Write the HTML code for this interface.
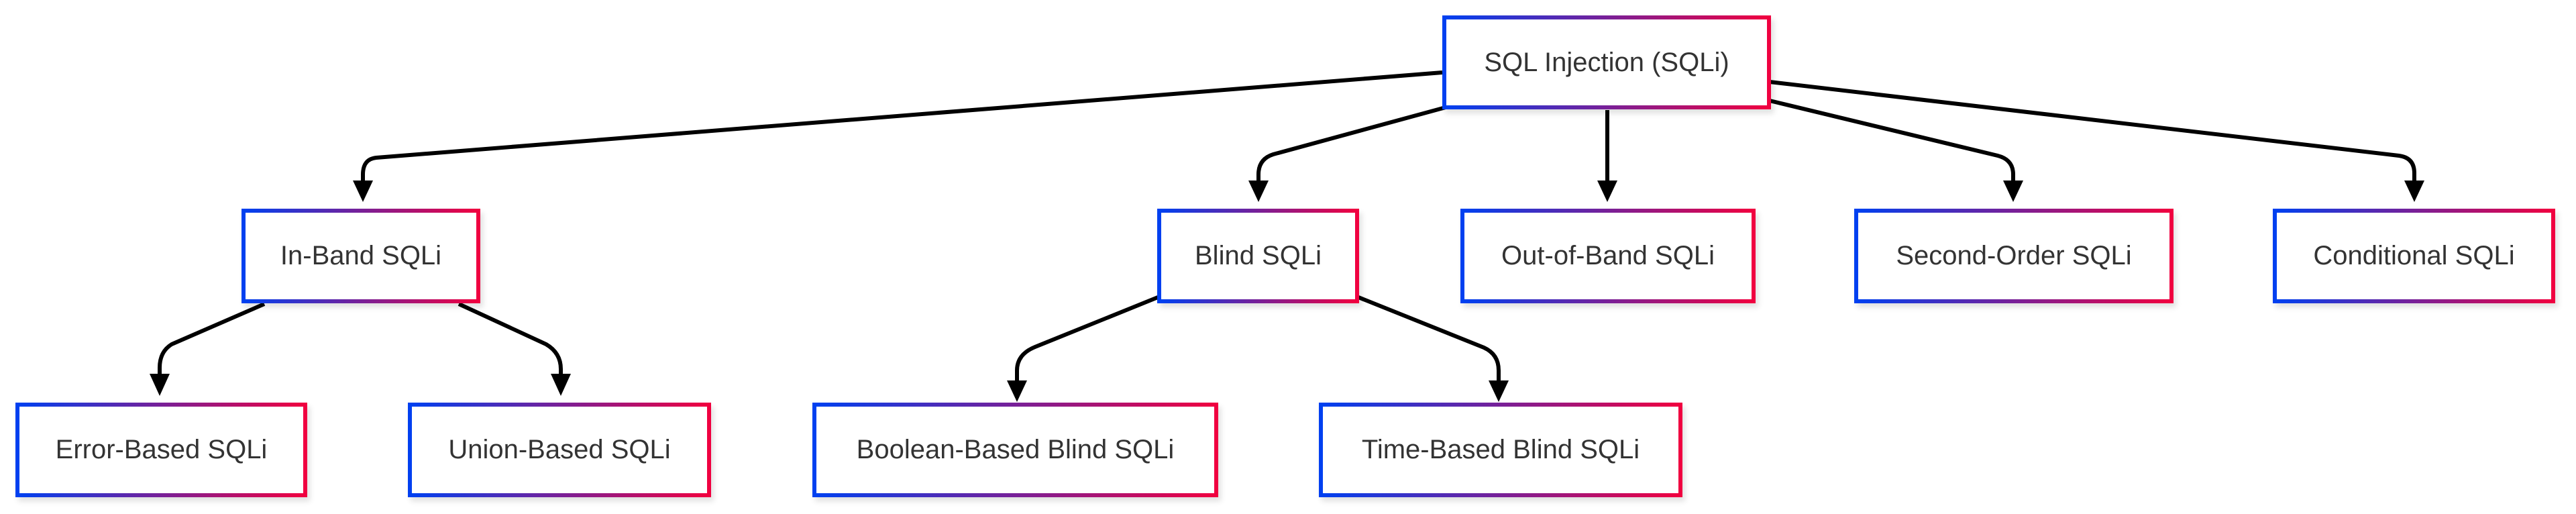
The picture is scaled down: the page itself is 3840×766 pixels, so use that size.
<!DOCTYPE html>
<html><head><meta charset="utf-8"><style>
html,body{margin:0;padding:0;background:#fff;}
body{width:3840px;height:766px;position:relative;overflow:hidden;font-family:"Liberation Sans",Arial,sans-serif;}
.n{position:absolute;box-sizing:border-box;border:6px solid;border-image:linear-gradient(90deg,#0040f0,#f00040) 1;background:#fff;display:flex;align-items:center;justify-content:center;font-size:40px;color:#333;box-shadow:4px 6px 8px rgba(0,0,0,0.12);}
svg{position:absolute;left:0;top:0;}
</style></head><body>
<svg width="3840" height="766" viewBox="0 0 3840 766">
<g fill="none" stroke="#000" stroke-width="6">
<path d="M2150,108 L561,235 Q541,237 541,260 L541,272"/>
<path d="M2155,160 L1898,230 Q1876,237 1876,260 L1876,272"/>
<path d="M2396,164 L2396,272"/>
<path d="M2638,150 L2978,232 Q3001,238 3001,260 L3001,272"/>
<path d="M2638,122 L3576,232 Q3599,235 3599,258 L3599,272"/>
<path d="M394,453 L256,513 Q238,524 238,548 L238,560"/>
<path d="M684,453 L814,513 Q836,526 836,550 L836,560"/>
<path d="M1726,443 L1543,517 Q1516,528 1516,552 L1516,570"/>
<path d="M2025,443 L2212,518 Q2234,528 2234,552 L2234,570"/>
</g>
<g fill="#000">
<polygon points="526,269 556,269 541,301"/>
<polygon points="1861,269 1891,269 1876,301"/>
<polygon points="2381,269 2411,269 2396,301"/>
<polygon points="2986,269 3016,269 3001,301"/>
<polygon points="3584,269 3614,269 3599,301"/>
<polygon points="223,557 253,557 238,590"/>
<polygon points="821,557 851,557 836,590"/>
<polygon points="1501,567 1531,567 1516,599"/>
<polygon points="2219,567 2249,567 2234,599"/>
</g>
</svg>
<div class="n" style="left:2150px;top:23px;width:490px;height:140px;">SQL Injection (SQLi)</div>
<div class="n" style="left:360px;top:311px;width:356px;height:141px;">In-Band SQLi</div>
<div class="n" style="left:1725px;top:311px;width:301px;height:141px;">Blind SQLi</div>
<div class="n" style="left:2177px;top:311px;width:440px;height:141px;">Out-of-Band SQLi</div>
<div class="n" style="left:2764px;top:311px;width:476px;height:141px;">Second-Order SQLi</div>
<div class="n" style="left:3388px;top:311px;width:421px;height:141px;">Conditional SQLi</div>
<div class="n" style="left:23px;top:600px;width:435px;height:141px;">Error-Based SQLi</div>
<div class="n" style="left:608px;top:600px;width:452px;height:141px;">Union-Based SQLi</div>
<div class="n" style="left:1211px;top:600px;width:605px;height:141px;">Boolean-Based Blind SQLi</div>
<div class="n" style="left:1966px;top:600px;width:542px;height:141px;">Time-Based Blind SQLi</div>
</body></html>
